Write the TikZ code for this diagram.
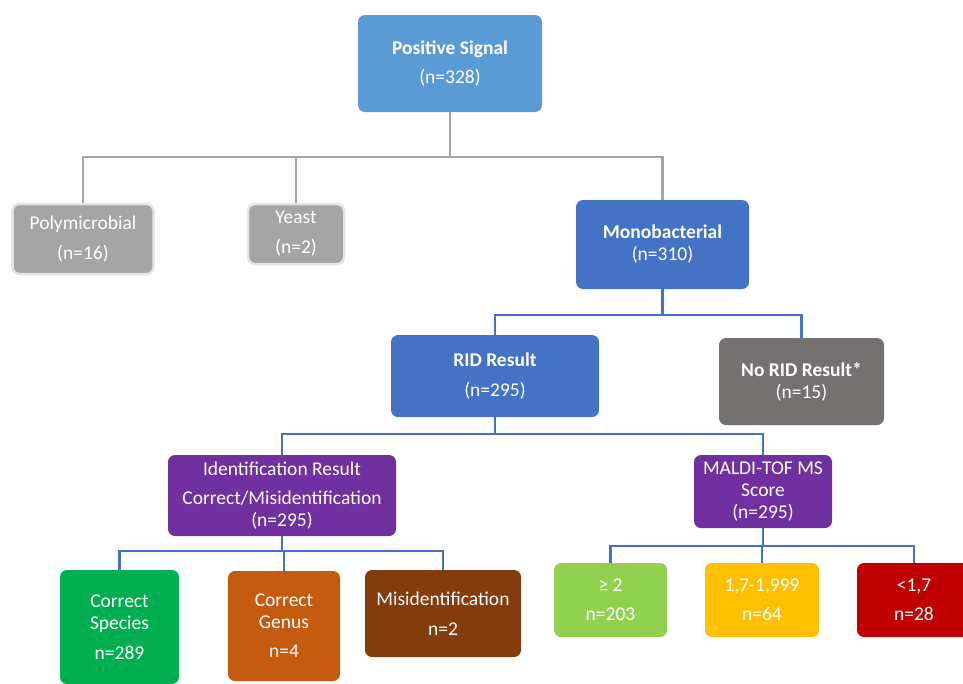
\documentclass[tikz,border=0pt]{standalone}
\usepackage{fontspec}
\setmainfont{Carlito}
\usepackage{tikz}
\definecolor{sigblue}{HTML}{5B9BD5}
\definecolor{darkblue}{HTML}{4472C4}
\definecolor{boxgrey}{HTML}{A5A5A5}
\definecolor{greyrim}{HTML}{E3E3E3}
\definecolor{linegrey}{HTML}{A6A6A6}
\definecolor{darkgrey}{HTML}{767171}
\definecolor{idpurple}{HTML}{7030A0}
\definecolor{spgreen}{HTML}{00B050}
\definecolor{gnorange}{HTML}{C55A11}
\definecolor{misbrown}{HTML}{843C0C}
\definecolor{hilime}{HTML}{92D050}
\definecolor{midamber}{HTML}{FFC000}
\definecolor{lowred}{HTML}{C00000}

\begin{document}
\begin{tikzpicture}[x=1pt,y=-1pt,
  box/.style={rounded corners=7pt, text=white, align=center, inner sep=2pt,
              font=\fontsize{19.5}{22}\selectfont},
  greybox/.style={box, fill=boxgrey, draw=greyrim, line width=2.5pt},
  gconn/.style={draw=linegrey, line width=2.2pt},
  bconn/.style={draw=darkblue, line width=2.2pt}]
\useasboundingbox (0,0) rectangle (963,683);

\node[box, fill=sigblue, minimum width=184pt, minimum height=97pt] (pos) at (450,63.5)
  {\textbf{Positive Signal}\\[7pt](n=328)};
\node[greybox, minimum width=141pt, minimum height=70pt] (poly) at (83,239)
  {Polymicrobial\\[8pt](n=16)};
\node[greybox, minimum width=96pt, minimum height=60pt] (yeast) at (296,234)
  {Yeast\\[8pt](n=2)};
\node[box, fill=darkblue, minimum width=173pt, minimum height=89pt] (mono) at (662.5,244.5)
  {\textbf{Monobacterial}\\(n=310)};

\node[box, fill=darkblue, minimum width=208pt, minimum height=82pt] (rid) at (495,376)
  {\textbf{RID Result}\\[8pt](n=295)};
\node[box, fill=darkgrey, minimum width=165pt, minimum height=87pt] (norid) at (801.5,381.5)
  {\textbf{No RID Result*}\\(n=15)};

\node[box, fill=idpurple, minimum width=228pt, minimum height=81pt] (idres) at (282,495.5)
  {Identification Result\\[7pt]Correct/Misidentification\\(n=295)};
\node[box, fill=idpurple, minimum width=138pt, minimum height=73pt] (maldi) at (763,491.5)
  {MALDI-TOF MS\\Score\\(n=295)};

\node[box, fill=spgreen, minimum width=119pt, minimum height=114pt] (species) at (119.5,627)
  {Correct\\Species\\[8pt]n=289};
\node[box, fill=gnorange, minimum width=112pt, minimum height=110pt] (genus) at (284,626)
  {Correct\\Genus\\[7pt]n=4};
\node[box, fill=misbrown, minimum width=156pt, minimum height=87pt] (misid) at (443,613.5)
  {Misidentification\\[8pt]n=2};

\node[box, fill=hilime, minimum width=113pt, minimum height=74pt] (high) at (610.5,600)
  {≥ 2\\[7pt]n=203};
\node[box, fill=midamber, minimum width=114pt, minimum height=74pt] (mid) at (762,600)
  {1,7-1,999\\[7pt]n=64};
\node[box, fill=lowred, minimum width=114pt, minimum height=74pt] (low) at (914,600)
  {<1,7\\[7pt]n=28};

\draw[gconn] (pos.south) -- ++(0,45) -| (poly.north);
\draw[gconn] (pos.south) -- ++(0,45) -| (yeast.north);
\draw[gconn] (pos.south) -- ++(0,45) -| (mono.north);
\draw[bconn] (mono.south) -- ++(0,26) -| (rid.north);
\draw[bconn] (mono.south) -- ++(0,26) -| (norid.north);
\draw[bconn] (rid.south) -- ++(0,17) -| (idres.north);
\draw[bconn] (rid.south) -- ++(0,17) -| (maldi.north);
\draw[bconn] (idres.south) -- ++(0,15) -| (species.north);
\draw[bconn] (idres.south) -- ++(0,15) -| (genus.north);
\draw[bconn] (idres.south) -- ++(0,15) -| (misid.north);
\draw[bconn] (maldi.south) -- ++(0,18) -| (high.north);
\draw[bconn] (maldi.south) -- ++(0,18) -| (mid.north);
\draw[bconn] (maldi.south) -- ++(0,18) -| (low.north);
\end{tikzpicture}
\end{document}
